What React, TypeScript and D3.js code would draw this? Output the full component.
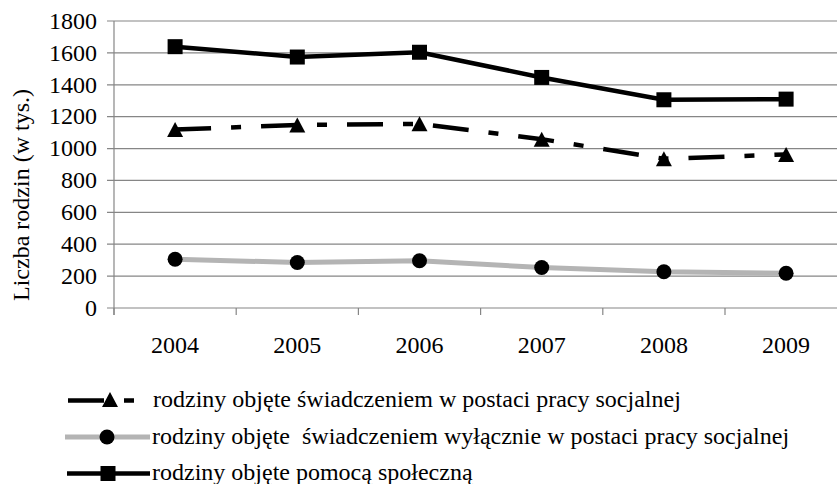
import React from "react";
import * as d3 from "d3";

const years = ["2004", "2005", "2006", "2007", "2008", "2009"];
const pomoc = [1639, 1574, 1604, 1446, 1306, 1310];
const swiadczenie = [1119, 1148, 1155, 1059, 936, 963];
const wylacznie = [306, 285, 296, 254, 227, 218];
const yTicks = [0, 200, 400, 600, 800, 1000, 1200, 1400, 1600, 1800];
const legendLabels = [
  "rodziny objęte świadczeniem w postaci pracy socjalnej",
  "rodziny objęte  świadczeniem wyłącznie w postaci pracy socjalnej",
  "rodziny objęte pomocą społeczną",
];
const yTitle = "Liczba rodzin (w tys.)";

const W = 837;
const H = 484;
const FONT = "Liberation Serif, Times New Roman, DejaVu Serif, serif";
const GRID = "#868686";
const GRAYLINE = "#b4b4b4";
const DASH = "36 20 10 20";

export default function App() {
  const x = d3.scaleBand<string>().domain(years).range([114, 114 + 6 * 122.2]).padding(0);
  const y = d3.scaleLinear().domain([0, 1800]).range([308, 21]);
  const cx = (d: string) => (x(d) as number) + x.bandwidth() / 2;
  const line = d3
    .line<number>()
    .x((_, i) => cx(years[i]))
    .y((v) => y(v));

  const tri = (px: number, py: number, w = 16, h = 15) =>
    `M${px},${py - h / 2}L${px + w / 2},${py + h / 2}L${px - w / 2},${py + h / 2}Z`;

  const bounds = years.map((d) => x(d) as number);
  const legendRows = [400.5, 437, 473.5];
  const ts: React.CSSProperties = { fontFamily: FONT, fontSize: 24, whiteSpace: "pre" };

  return (
    <svg
      width={W}
      height={H}
      style={{ position: "absolute", left: 0, top: 0, display: "block", background: "#fff" }}
    >
      <rect x={0} y={0} width={W} height={H} fill="#fff" />
      {yTicks.map((t) => (
        <line key={t} x1={107} x2={W} y1={y(t)} y2={y(t)} stroke={GRID} strokeWidth={1.2} />
      ))}
      <line x1={114} x2={114} y1={y(1800)} y2={y(0) + 7} stroke={GRID} strokeWidth={1.2} />
      {bounds.map((b, i) => (
        <line key={i} x1={b} x2={b} y1={y(0)} y2={y(0) + 7} stroke={GRID} strokeWidth={1.2} />
      ))}
      {yTicks.map((t) => (
        <text key={t} x={97} y={y(t) + 7.8} textAnchor="end" style={ts} fill="#000">
          {t}
        </text>
      ))}
      {years.map((d) => (
        <text key={d} x={cx(d)} y={352.7} textAnchor="middle" style={ts} fill="#000">
          {d}
        </text>
      ))}
      <text transform={`translate(29,195) rotate(-90)`} textAnchor="middle" style={ts} fill="#000">
        {yTitle}
      </text>

      <path d={line(wylacznie) || ""} fill="none" stroke={GRAYLINE} strokeWidth={5} />
      <path
        d={line(swiadczenie) || ""}
        fill="none"
        stroke="#000"
        strokeWidth={4.5}
        strokeDasharray={DASH}
      />
      <path d={line(pomoc) || ""} fill="none" stroke="#000" strokeWidth={4.5} />

      {wylacznie.map((v, i) => (
        <circle key={"c" + i} cx={cx(years[i])} cy={y(v)} r={7.5} fill="#000" />
      ))}
      {swiadczenie.map((v, i) => (
        <path key={"t" + i} d={tri(cx(years[i]), y(v))} fill="#000" />
      ))}
      {pomoc.map((v, i) => (
        <rect key={"s" + i} x={cx(years[i]) - 7.5} y={y(v) - 7.5} width={15} height={15} fill="#000" />
      ))}

      <g>
        <line x1={68} x2={135} y1={legendRows[0]} y2={legendRows[0]} stroke="#000" strokeWidth={4.5} strokeDasharray={DASH} />
        <path d={tri(110, legendRows[0] - 1)} fill="#000" />
        <text x={153} y={legendRows[0] + 6.5} style={ts} fill="#000">
          {legendLabels[0]}
        </text>

        <line x1={65} x2={150} y1={legendRows[1]} y2={legendRows[1]} stroke={GRAYLINE} strokeWidth={5} />
        <circle cx={107} cy={legendRows[1]} r={7.5} fill="#000" />
        <text x={152} y={legendRows[1] + 6.5} style={ts} fill="#000">
          {legendLabels[1]}
        </text>

        <line x1={67} x2={150} y1={legendRows[2]} y2={legendRows[2]} stroke="#000" strokeWidth={4.5} />
        <rect x={100.5} y={legendRows[2] - 7.5} width={15} height={15} fill="#000" />
        <text x={152} y={legendRows[2] + 6.5} style={ts} fill="#000">
          {legendLabels[2]}
        </text>
      </g>
    </svg>
  );
}
